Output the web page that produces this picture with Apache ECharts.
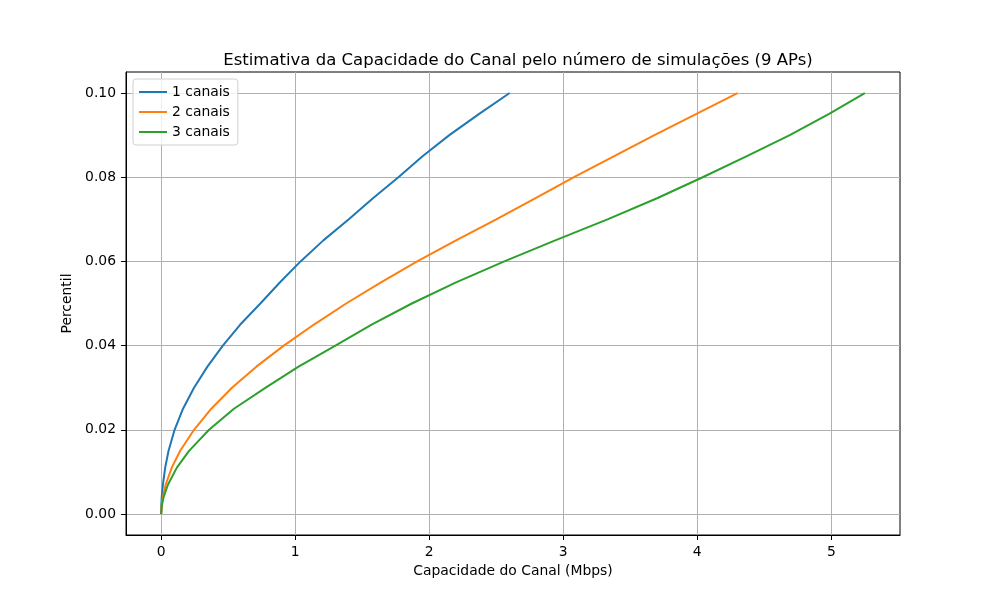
<!DOCTYPE html>
<html>
<head>
<meta charset="utf-8">
<script src="https://cdn.jsdelivr.net/npm/echarts@6/dist/echarts.min.js"></script>
<style>
  html, body { margin: 0; padding: 0; background: #fff; }
  #main { width: 1000px; height: 600px; }
</style>
</head>
<body>
<div id="main"></div>
<script>
// percentil (eixo y) comum as tres curvas
var percentil = [0, 0.002, 0.004, 0.007, 0.011, 0.015, 0.02, 0.025, 0.03, 0.035, 0.04, 0.045, 0.05, 0.055, 0.06, 0.065, 0.07, 0.075, 0.08, 0.085, 0.09, 0.095, 0.1];
// capacidade (Mbps) em cada percentil
var canais1 = [0, 0.001, 0.004, 0.013, 0.03, 0.055, 0.1, 0.163, 0.245, 0.345, 0.46, 0.59, 0.74, 0.885, 1.04, 1.21, 1.4, 1.58, 1.77, 1.95, 2.15, 2.37, 2.6];
var canais2 = [0, 0.003, 0.012, 0.034, 0.079, 0.142, 0.245, 0.374, 0.528, 0.71, 0.915, 1.14, 1.38, 1.64, 1.91, 2.2, 2.5, 2.79, 3.08, 3.38, 3.68, 3.99, 4.3];
var canais3 = [0, 0.005, 0.018, 0.051, 0.117, 0.208, 0.357, 0.543, 0.78, 1.025, 1.3, 1.57, 1.87, 2.2, 2.56, 2.94, 3.33, 3.7, 4.04, 4.37, 4.69, 4.98, 5.25];
var nomes = ['1 canais', '2 canais', '3 canais'];
// marcas dos eixos
var xTicks = [0, 1, 2, 3, 4, 5];
var yTicks = [0, 0.02, 0.04, 0.06, 0.08, 0.1];

function pares(xs) {
  return xs.map(function (x, i) { return [x, percentil[i]]; });
}

var chart = echarts.init(document.getElementById('main'));
var font = 'DejaVu Sans';
var option = {
  animation: false,
  color: ['#1f77b4', '#ff7f0e', '#2ca02c'],
  title: {
    text: 'Estimativa da Capacidade do Canal pelo número de simulações (9 APs)',
    left: 513,
    textAlign: 'center',
    top: 47,
    textStyle: { fontFamily: font, fontSize: 16.5, fontWeight: 'normal', color: '#000' }
  },
  legend: {
    orient: 'vertical',
    left: 133,
    top: 79,
    data: nomes,
    icon: 'rect',
    itemWidth: 28,
    itemHeight: 2,
    itemGap: 6,
    padding: [6, 8, 6, 6],
    borderColor: '#d0d0d0',
    borderWidth: 1,
    borderRadius: 3,
    backgroundColor: 'rgba(255,255,255,0.8)',
    textStyle: { fontFamily: font, fontSize: 13.9, color: '#000' }
  },
  grid: {
    left: 126, right: 100, top: 72, bottom: 65,
    show: true, borderColor: '#000', borderWidth: 1
  },
  xAxis: {
    type: 'value',
    min: -0.2625,
    max: 5.5125,
    name: 'Capacidade do Canal (Mbps)',
    nameLocation: 'middle',
    nameGap: 28,
    nameTextStyle: { fontFamily: font, fontSize: 13.9, color: '#000' },
    axisLine: { show: true, onZero: false, lineStyle: { color: '#000' } },
    axisTick: { show: true, length: 5, customValues: xTicks, lineStyle: { color: '#000' } },
    axisLabel: {
      customValues: xTicks, margin: 10,
      fontFamily: font, fontSize: 13.9, color: '#000',
      formatter: function (v) { return String(Math.round(v)); }
    },
    splitLine: { show: true, lineStyle: { color: '#b0b0b0', width: 1 } }
  },
  yAxis: {
    type: 'value',
    min: -0.005,
    max: 0.105,
    name: 'Percentil',
    nameLocation: 'middle',
    nameGap: 48,
    nameTextStyle: { fontFamily: font, fontSize: 13.9, color: '#000' },
    axisLine: { show: true, onZero: false, lineStyle: { color: '#000' } },
    axisTick: { show: true, length: 5, customValues: yTicks, lineStyle: { color: '#000' } },
    axisLabel: {
      customValues: yTicks, margin: 10,
      fontFamily: font, fontSize: 13.9, color: '#000',
      formatter: function (v) { return v.toFixed(2); }
    },
    splitLine: { show: true, lineStyle: { color: '#b0b0b0', width: 1 } }
  },
  series: nomes.map(function (nome, k) {
    return {
      name: nome,
      type: 'line',
      data: pares([canais1, canais2, canais3][k]),
      symbol: 'none',
      smooth: false,
      lineStyle: { width: 2 }
    };
  })
};
chart.setOption(option);
</script>
</body>
</html>
